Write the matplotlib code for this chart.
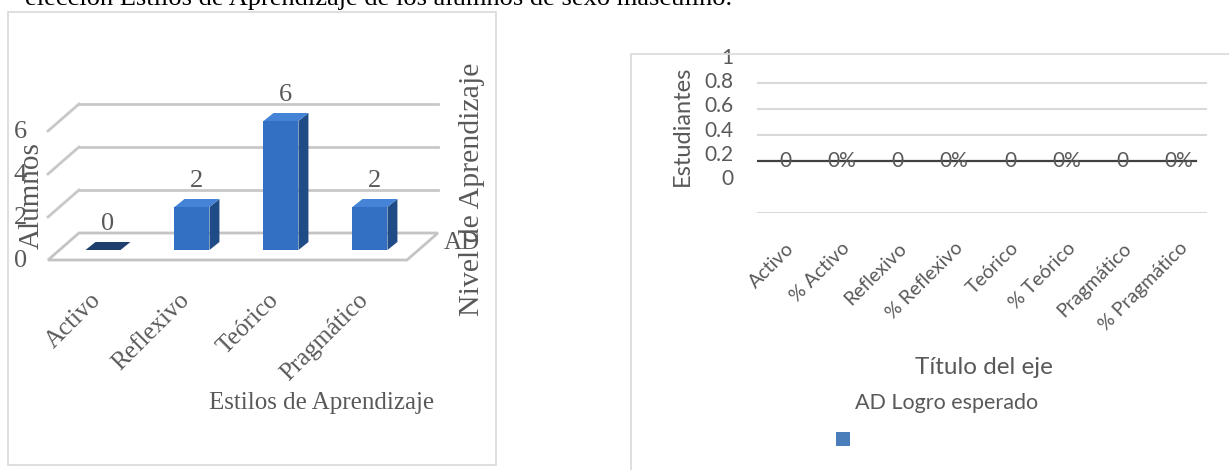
import matplotlib.pyplot as plt
from matplotlib.patches import Polygon, Rectangle

# left chart: alumnos por estilo
estilos = ["Activo", "Reflexivo", "Teórico", "Pragmático"]
alumnos = [0, 2, 6, 2]
niveles_eje = [0, 2, 4, 6]

# right chart: empty series
cats_der = ["Activo", "% Activo", "Reflexivo", "% Reflexivo",
            "Teórico", "% Teórico", "Pragmático", "% Pragmático"]
vals_der = [0, 0, 0, 0, 0, 0, 0, 0]
etiquetas_der = ["0", "0%", "0", "0%", "0", "0%", "0", "0%"]
ticks_der = [0, 0.2, 0.4, 0.6, 0.8, 1]

W, H = 1229, 470
fig = plt.figure(figsize=(W / 100, H / 100), dpi=100)


def box(left, top, right, bottom):
    return [left / W, 1 - bottom / H, (right - left) / W, (bottom - top) / H]


serif = "Liberation Serif"
sans = "Lato"
gris = "#595959"

# caption cut off at the top of the page
fig.text(25 / W, 1 - 5 / H,
         "elección Estilos de Aprendizaje de los alumnos de sexo masculino.",
         family=serif, fontsize=19, color="black", va="baseline", ha="left")

# chart frames
fig.patches.append(Rectangle((8 / W, 1 - 465 / H), 488 / W, 453 / H,
                             transform=fig.transFigure, fill=False,
                             edgecolor="#D9D9D9", lw=1.2))
fig.patches.append(Rectangle((631 / W, -0.1), 0.6, 1 - 54 / H + 0.1,
                             transform=fig.transFigure, fill=False,
                             edgecolor="#D9D9D9", lw=1.2))

# ---------- left: pseudo 3D column chart ----------
ax1 = fig.add_axes(box(48, 95, 440, 262))
ax1.set_xlim(-0.618, 3.787)
ax1.set_ylim(-0.558, 7.21)
ax1.axis("off")

dx, dy = 0.112, 0.372          # bar depth
fdx, fdy = 0.348, 1.256        # floor depth
f_front = -0.465
x_left, x_right = -0.618, 3.416
wall = f_front + fdy

floor = Polygon([(x_left, f_front), (x_right, f_front),
                 (x_right + fdx, wall), (x_left + fdx, wall)],
                closed=True, facecolor="white", edgecolor="#C4C4C4", lw=2,
                zorder=1, clip_on=False)
ax1.add_patch(floor)
for lev in niveles_eje[1:]:
    ax1.plot([x_left + fdx, x_right + fdx], [lev + wall, lev + wall],
             color="#C8C8C8", lw=2, zorder=1, clip_on=False)
    ax1.plot([x_left, x_left + fdx], [lev + f_front, lev + wall],
             color="#C8C8C8", lw=2, zorder=1, clip_on=False)
for lev in niveles_eje:
    ax1.text(x_left - 0.31, lev - 0.5, str(lev), family=serif, fontsize=19,
             color=gris, ha="center", va="center")

w = 0.393
for i, v in enumerate(alumnos):
    x0, x1 = i - w / 2, i + w / 2
    if v > 0:
        ax1.add_patch(Rectangle((x0, 0), w, v, facecolor="#3370C4",
                                edgecolor="none", zorder=3))
        ax1.add_patch(Polygon([(x1, 0), (x1 + dx, dy), (x1 + dx, v + dy),
                               (x1, v)], facecolor="#1F4C86",
                              edgecolor="none", zorder=3))
        top_col = "#4483D6"
    else:
        top_col = "#1F3F6E"
    ax1.add_patch(Polygon([(x0, v), (x1, v), (x1 + dx, v + dy),
                           (x0 + dx, v + dy)], facecolor=top_col,
                          edgecolor="none", zorder=3))
    ax1.text(i + 0.05, v + dy + 0.85, str(v), family=serif, fontsize=19,
             color=gris, ha="center", va="center")
    ax1.text(i - 0.15, -1.8, estilos[i], family=serif, fontsize=18,
             color=gris, ha="right", va="top", rotation=45,
             rotation_mode="anchor")

fig.text(32 / W, 1 - 196 / H, "Alumnos", family=serif, fontsize=21,
         color=gris, rotation=90, ha="center", va="center")
fig.text(472 / W, 1 - 189 / H, "Nivel de Aprendizaje", family=serif,
         fontsize=21.5, color=gris, rotation=90, ha="center", va="center")
fig.text(462 / W, 1 - 243 / H, "AD", family=serif, fontsize=18,
         color=gris, ha="center", va="center")
fig.text(322 / W, 1 - 403 / H, "Estilos de Aprendizaje", family=serif,
         fontsize=18, color=gris, ha="center", va="center")

# ---------- right: empty line chart ----------
ax2 = fig.add_axes(box(757, 57, 1207, 213))
ax2.set_xlim(-0.5, len(cats_der) - 0.5)
ax2.set_ylim(-0.4, 0.8)
ax2.set_yticks([-0.4, 0.2, 0.4, 0.6])
ax2.grid(axis="y", color="#D9D9D9", lw=1.5)
ax2.tick_params(axis="y", left=False, labelleft=False)
ax2.axhline(0, xmax=0.975, color="#404040", lw=1.6)
for s in ax2.spines.values():
    s.set_visible(False)
ax2.plot(range(len(cats_der)), vals_der, color="#404040", lw=0)
for i, (v, t) in enumerate(zip(vals_der, etiquetas_der)):
    ax2.text(i, v, t, family=sans, fontsize=15, color=gris,
             ha="center", va="center")
ax2.set_xticks(range(len(cats_der)))
ax2.set_xticklabels(cats_der, rotation=45, ha="right",
                    rotation_mode="anchor", family=sans, fontsize=14,
                    color=gris)
ax2.tick_params(axis="x", length=0, pad=19)

ax3 = fig.add_axes(box(757, 50, 1207, 213))
ax3.set_ylim((177 - 213) / 121, (177 - 50) / 121)
ax3.set_yticks(ticks_der)
ax3.set_yticklabels([f"{t:g}" for t in ticks_der], family=sans,
                    fontsize=15, color=gris)
ax3.tick_params(axis="y", length=0, pad=17)
ax3.set_xticks([])
ax3.patch.set_visible(False)
for s in ax3.spines.values():
    s.set_visible(False)

fig.text(682 / W, 1 - 126 / H, "Estudiantes", family=sans, fontsize=17,
         color=gris, rotation=90, ha="center", va="center")
fig.text(984 / W, 1 - 367 / H, "Título del eje", family=sans, fontsize=17.5,
         color=gris, ha="center", va="center")
fig.text(947 / W, 1 - 403 / H, "AD Logro esperado", family=sans,
         fontsize=15.5, color=gris, ha="center", va="center")
fig.patches.append(Rectangle((836 / W, 1 - 446 / H), 14 / W, 14 / H,
                             transform=fig.transFigure,
                             facecolor="#4A7EBB", edgecolor="none"))

fig.savefig("out.png", dpi=100)
